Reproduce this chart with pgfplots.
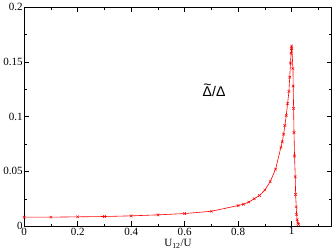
\documentclass[border=0pt]{standalone}
\usepackage{pgfplots}
\pgfplotsset{compat=1.18}
\usepackage{fontspec}
\setmainfont{Liberation Serif}
\newfontfamily\lsans{Liberation Sans}
\begin{document}
\begin{tikzpicture}
\begin{axis}[
  scale only axis,
  width=306pt, height=218pt,
  xmin=0, xmax=1.15, ymin=0, ymax=0.2,
  xtick={0,0.2,0.4,0.6,0.8,1},
  xticklabels={0,0.2,0.4,0.6,0.8,1},
  minor xtick={0.1,0.3,0.5,0.7,0.9,1.1},
  ytick={0,0.05,0.1,0.15,0.2},
  yticklabels={0,0.05,0.1,0.15,0.2},
  minor ytick={0.025,0.075,0.125,0.175},
  tick align=inside,
  major tick length=5pt, minor tick length=2.5pt,
  tick style={black, line width=0.5pt},
  axis line style={line width=0.6pt},
  ticklabel style={font=\fontsize{11}{13}\selectfont},
  xticklabel style={yshift=2pt},
  yticklabel style={xshift=2pt},
  xlabel={U\textsubscript{12}/U},
  xlabel style={font=\fontsize{11}{13}\selectfont, yshift=3pt},
  /pgf/number format/assume math mode=true,
]
\addplot[red, line width=0.6pt, mark=x, mark size=1.8pt, mark options={line width=0.5pt}] coordinates {
(0,0.0082) (0.1,0.0082) (0.2,0.0085) (0.3,0.0088) (0.4,0.0094) (0.5,0.0103)
(0.6,0.0115) (0.7,0.0136) (0.8,0.0188) (0.82,0.0200) (0.84,0.0220) (0.86,0.0250)
(0.88,0.0280) (0.9,0.0330) (0.92,0.0406) (0.94,0.0520) (0.96,0.0720) (0.965,0.0770)
(0.97,0.0840) (0.975,0.0920) (0.98,0.1010) (0.985,0.1120) (0.99,0.1230)
(0.993,0.1360) (0.996,0.1490) (0.998,0.1580) (0.999,0.1620) (1.0,0.1645) (1.001,0.1620)
(1.005,0.1440) (1.006,0.1280) (1.0075,0.1076) (1.009,0.0855) (1.011,0.0640)
(1.0137,0.0450) (1.015,0.0290) (1.0174,0.0176) (1.0187,0.0106) (1.021,0.0058)
(1.0236,0.0027) (1.026,0.0015)
};
\node at (axis cs:0.71,0.124) {\lsans\fontsize{14}{16}\selectfont\setbox0\hbox{Δ}\rlap{\hbox to\wd0{\hss\raisebox{0.5em}{\textasciitilde}\hss}}Δ/Δ};
\end{axis}
\end{tikzpicture}
\end{document}
